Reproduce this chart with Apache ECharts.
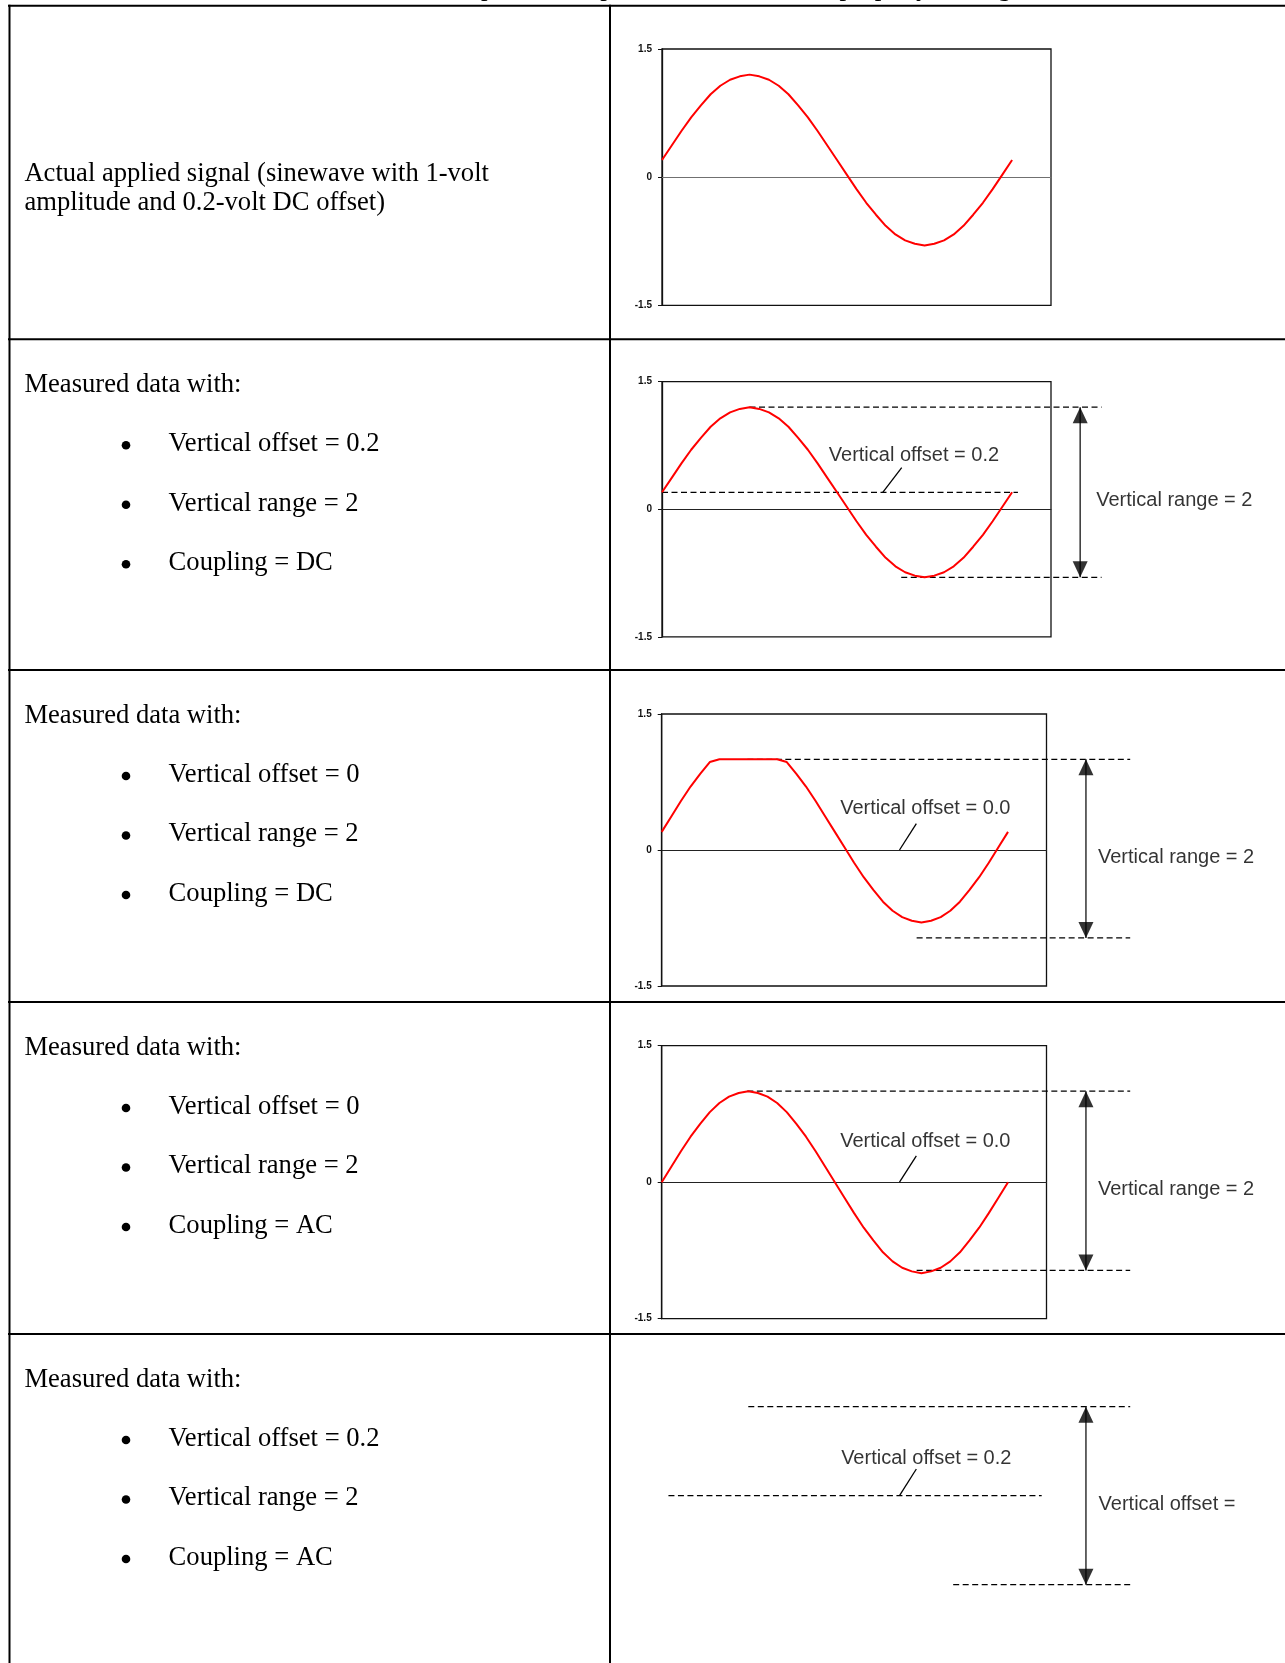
<!DOCTYPE html>
<html>
<head>
<meta charset="utf-8">
<title>Vertical offset / range examples</title>
<script src="https://cdn.jsdelivr.net/npm/echarts@6/dist/echarts.min.js"></script>
<style>
    html, body { margin: 0; padding: 0; background: #fff; }
    #main { width: 1285px; height: 1663px; }
</style>
</head>
<body>
<div id="main"></div>
<script>
// sweep positions (degrees) - the x axis of every plot runs 0..400
var degrees = [0,10,20,30,40,50,60,70,80,90,100,110,120,130,140,150,160,170,180,
               190,200,210,220,230,240,250,260,270,280,290,300,310,320,330,340,350,360];
// 1 V sine with 0.2 V DC offset
var appliedSignal = [0.2,0.37,0.54,0.7,0.84,0.97,1.07,1.14,1.18,1.2,1.18,1.14,1.07,0.97,0.84,0.7,0.54,0.37,0.2,
                     0.03,-0.14,-0.3,-0.44,-0.57,-0.67,-0.74,-0.78,-0.8,-0.78,-0.74,-0.67,-0.57,-0.44,-0.3,-0.14,0.03,0.2];
// same signal, measured with offset 0 / range 2 -> clipped at 1
var clippedDC = [0.2,0.37,0.54,0.7,0.84,0.97,1,1,1,1,1,1,1,0.97,0.84,0.7,0.54,0.37,0.2,
                 0.03,-0.14,-0.3,-0.44,-0.57,-0.67,-0.74,-0.78,-0.8,-0.78,-0.74,-0.67,-0.57,-0.44,-0.3,-0.14,0.03,0.2];
// AC coupled: DC part removed
var acCoupled = [0,0.17,0.34,0.5,0.64,0.77,0.87,0.94,0.98,1,0.98,0.94,0.87,0.77,0.64,0.5,0.34,0.17,0,
                 -0.17,-0.34,-0.5,-0.64,-0.77,-0.87,-0.94,-0.98,-1,-0.98,-0.94,-0.87,-0.77,-0.64,-0.5,-0.34,-0.17,0];

// annotation levels for rows 2..5
var offsetLevel = [0.2, 0, 0, 0.2];
var rangeTop = [1.2, 1.0, 1.0, 1.2];
var rangeBottom = [-0.8, -0.97, -0.97, -0.8];
var offsetLabels = ['Vertical offset = 0.2', 'Vertical offset = 0.0', 'Vertical offset = 0.0', 'Vertical offset = 0.2'];
var rangeLabels = ['Vertical range = 2', 'Vertical range = 2', 'Vertical range = 2', 'Vertical offset ='];

// left column texts
var firstRowText = ['Actual applied signal (sinewave with 1-volt', 'amplitude and 0.2-volt DC offset)'];
var bulletTexts = [
    ['Vertical offset = 0.2', 'Vertical range = 2', 'Coupling = DC'],
    ['Vertical offset = 0', 'Vertical range = 2', 'Coupling = DC'],
    ['Vertical offset = 0', 'Vertical range = 2', 'Coupling = AC'],
    ['Vertical offset = 0.2', 'Vertical range = 2', 'Coupling = AC']
];

// ---- layout (pixels) ----
var rowTops = [5.7, 339.3, 670, 1002, 1334];
var boxes = [
    {left: 662, top: 49, width: 389, height: 256.3},
    {left: 662, top: 381.7, width: 389, height: 255.2},
    {left: 661.7, top: 714, width: 384.8, height: 272},
    {left: 661.7, top: 1045.7, width: 384.8, height: 273},
    {left: 661.7, top: 1380, width: 384.8, height: 267}   // last row: no plot, only the marks
];
// annotation placement in axis units (x: 0..520 on the overlay grid)
var notePlace = [
    {top: [90, 452], off: [0, 366], bot: [246, 452], arrow: 430, lead: [[227, 0.2], [246.5, 0.49]], offAt: [171, 0.627], rangeAt: [446, 0.1]},
    {top: [89, 487], off: null, bot: [265, 487], arrow: 441, lead: [[247.2, 0], [264.7, 0.29]], offAt: [185, 0.455], rangeAt: [453, -0.08]},
    {top: [89, 487], off: null, bot: [265, 487], arrow: 441, lead: [[247.2, 0], [264.7, 0.29]], offAt: [185, 0.445], rangeAt: [453, -0.08]},
    {top: [90, 487], off: [7, 395], bot: [303, 487], arrow: 441, lead: [[247.2, 0.2], [264.7, 0.5]], offAt: [186, 0.62], rangeAt: [453.6, 0.1]}
];

var grids = [], xAxes = [], yAxes = [], series = [], graphics = [];

function addGrid(box, xMax, visible, zeroColor) {
    var idx = grids.length;
    grids.push({
        left: box.left, top: box.top, width: box.width * xMax / 400, height: box.height,
        show: visible, borderColor: '#111', borderWidth: 1.3, backgroundColor: 'transparent',
        containLabel: false, outerBoundsMode: 'none'
    });
    xAxes.push({
        gridIndex: idx, type: 'value', min: 0, max: xMax, show: visible,
        axisLine: {show: true, onZero: true, lineStyle: {color: zeroColor, width: 1}},
        axisTick: {show: false}, axisLabel: {show: false}, splitLine: {show: false}
    });
    yAxes.push({
        gridIndex: idx, type: 'value', min: -1.5, max: 1.5, interval: 1.5, show: visible,
        axisLine: {show: true, onZero: false, lineStyle: {color: '#111', width: 1.3}},
        axisTick: {show: true, length: 4, lineStyle: {color: '#111', width: 1}},
        axisLabel: {margin: 10, fontSize: 10, fontWeight: 'bold', fontFamily: 'Liberation Sans', color: '#111'},
        splitLine: {show: false}
    });
    return idx;
}

function seg(g, pts, style) {
    series.push({type: 'line', xAxisIndex: g, yAxisIndex: g, data: pts, symbol: 'none',
        silent: true, animation: false, lineStyle: style, z: 3});
}

function note(g, at, text) {
    series.push({type: 'scatter', xAxisIndex: g, yAxisIndex: g, data: [at], symbol: 'circle', symbolSize: 1,
        itemStyle: {color: 'rgba(0,0,0,0)'}, silent: true, animation: false, z: 4,
        label: {show: true, position: 'right', distance: 0, formatter: text,
            fontFamily: 'Liberation Sans', fontSize: 20, color: '#000'}});
}

function head(g, at, up) {
    series.push({type: 'scatter', xAxisIndex: g, yAxisIndex: g, data: [at],
        symbol: up ? 'path://M0,10L5,0L10,10Z' : 'path://M0,0L10,0L5,10Z',
        symbolSize: [15, 16], symbolOffset: [0, up ? 8 : -8],
        itemStyle: {color: '#000'}, silent: true, animation: false, z: 5});
}

// plots (rows 1..4)
var plotData = [appliedSignal, appliedSignal, clippedDC, acCoupled];
plotData.forEach(function (vals, i) {
    var g = addGrid(boxes[i], 400, true, i === 0 ? '#707070' : '#222');
    series.push({
        type: 'line', xAxisIndex: g, yAxisIndex: g, symbol: 'none', silent: true, animation: false, z: 4,
        data: degrees.map(function (d, k) { return [d, vals[k]]; }),
        lineStyle: {color: '#ff0000', width: 2}
    });
});

// annotations (rows 2..5) on wider invisible grids with the same scale
var dash = {color: '#000', width: 1.2, type: [6, 3.5]};
notePlace.forEach(function (p, i) {
    var g = addGrid(boxes[i + 1], 520, false, '#000');
    seg(g, [[p.top[0], rangeTop[i]], [p.top[1], rangeTop[i]]], dash);
    seg(g, [[p.bot[0], rangeBottom[i]], [p.bot[1], rangeBottom[i]]], dash);
    if (p.off) seg(g, [[p.off[0], offsetLevel[i]], [p.off[1], offsetLevel[i]]], dash);
    seg(g, p.lead, {color: '#000', width: 1.3});
    seg(g, [[p.arrow, rangeTop[i]], [p.arrow, rangeBottom[i]]], {color: '#333', width: 1.5});
    head(g, [p.arrow, rangeTop[i]], true);
    head(g, [p.arrow, rangeBottom[i]], false);
    note(g, p.offAt, offsetLabels[i]);
    note(g, p.rangeAt, rangeLabels[i]);
});

// table rules
rowTops.forEach(function (y) {
    graphics.push({type: 'line', shape: {x1: 8, y1: y, x2: 1285, y2: y}, style: {stroke: '#000', lineWidth: 2}, silent: true});
});
graphics.push({type: 'line', shape: {x1: 9.5, y1: 4.7, x2: 9.5, y2: 1663}, style: {stroke: '#000', lineWidth: 2}, silent: true});
graphics.push({type: 'line', shape: {x1: 610, y1: 4.7, x2: 610, y2: 1663}, style: {stroke: '#000', lineWidth: 2}, silent: true});

// caption, cut off by the top edge of the page
graphics.push({type: 'text', x: 652, y: 2, silent: true,
    style: {text: 'Table 3.  An example of unexpected data due to not properly scaling.', fill: '#000',
        fontSize: 26.5, fontFamily: 'Liberation Serif', align: 'center', verticalAlign: 'bottom'}});

function leftText(x, y, text) {
    graphics.push({type: 'text', x: x, y: y, silent: true,
        style: {text: text, fill: '#000', fontSize: 26.6, fontFamily: 'Liberation Serif',
            align: 'left', verticalAlign: 'middle'}});
}
function bullet(x, y) {
    graphics.push({type: 'circle', shape: {cx: x, cy: y, r: 4.3}, style: {fill: '#000'}, silent: true});
}
leftText(24.4, 173.8, firstRowText[0]);
leftText(24.4, 203.4, firstRowText[1]);
bulletTexts.forEach(function (items, r) {
    var top = rowTops[r + 1];
    leftText(24.4, top + 46, 'Measured data with:');
    items.forEach(function (t, k) {
        var y = top + 105 + k * 59.5;
        bullet(126, y + 1);
        leftText(168.6, y, t);
    });
});

var chart = echarts.init(document.getElementById('main'));
chart.setOption({
    animation: false,
    backgroundColor: '#fff',
    grid: grids,
    xAxis: xAxes,
    yAxis: yAxes,
    series: series,
    graphic: graphics
});
</script>
</body>
</html>
